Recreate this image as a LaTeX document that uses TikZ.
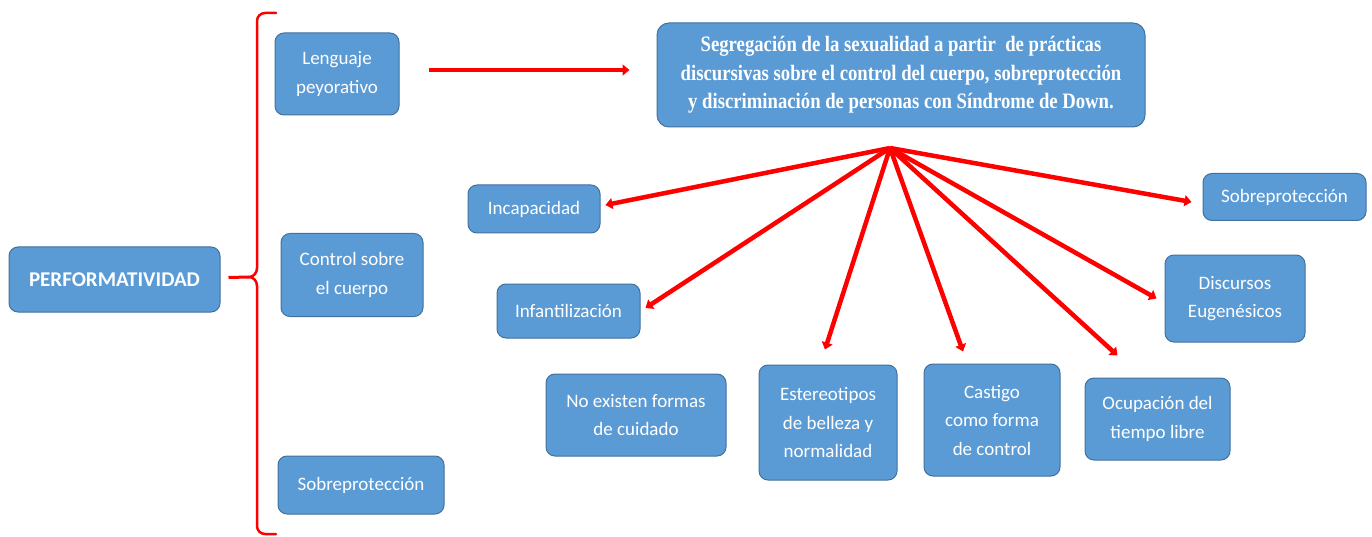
\documentclass[tikz,border=0pt]{standalone}
\usepackage{fontspec}
\setmainfont{Carlito}
\newfontfamily\topfont[FakeStretch=0.85]{Liberation Serif}
\usetikzlibrary{arrows.meta,calc}
\definecolor{boxfill}{RGB}{91,155,213}
\definecolor{boxline}{RGB}{65,113,156}
\tikzset{
  box/.style={draw=boxline, line width=1pt, fill=boxfill, rounded corners=9pt, text=white,
    align=center, inner sep=2pt, font=\fontsize{19}{28.5}\selectfont},
  arr/.style={draw=red, line width=4.5pt, -{Triangle[length=7pt,width=11pt]}},
  bracestyle/.style={draw=red, line width=2.5pt, line cap=round}
}
\begin{document}
\begin{tikzpicture}[x=1pt,y=-1pt]
\useasboundingbox (0,0) rectangle (1372,537);
% left part
\node[box, minimum width=211, minimum height=65, font=\fontsize{21}{24}\selectfont\bfseries] (perf) at (114.5,279.5) {PERFORMATIVIDAD};
\node[box, minimum width=124, minimum height=82] (leng) at (337,74) {Lenguaje\\peyorativo};
\node[box, minimum width=142, minimum height=83] (ctrl) at (352,275) {Control sobre\\el cuerpo};
\node[box, minimum width=166, minimum height=58] (sobL) at (361,485) {Sobreprotección};
% brace
\coordinate (btop) at (276,13);
\coordinate (bbot) at (276,534);
\coordinate (bcusp) at (249,277);
\draw[bracestyle] (btop) -- (265,13) to[out=180,in=90] (257,21) -- (257,268)
  to[out=-90,in=0] (bcusp) to[out=0,in=90] (257,286) -- (257,526) to[out=-90,in=180] (265,534) -- (bbot);
\draw[red, line width=3pt] (perf.east) ++(8,-2) -- (bcusp);
% top
\node[box, minimum width=488, minimum height=104, rounded corners=12pt,
  font=\topfont\bfseries\fontsize{22}{28.5}\selectfont] (top) at (901,75)
  {Segregación de la sexualidad a partir \ de prácticas\\discursivas sobre el control del cuerpo, sobreprotección\\y discriminación de personas con Síndrome de Down.};
\draw[arr] ($(leng.east)+(29,-4)$) -- ($(top.west)+(-27,-5)$);
% children
\coordinate (hub) at (890,148);
\node[box, minimum width=132, minimum height=48] (inc) at (534,209) {Incapacidad};
\node[box, minimum width=143, minimum height=54] (inf) at (568.5,311) {Infantilización};
\node[box, minimum width=180, minimum height=82] (noex) at (636,415) {No existen formas\\de cuidado};
\node[box, minimum width=138, minimum height=115] (est) at (828,422.5) {Estereotipos\\de belleza y\\normalidad};
\node[box, minimum width=136, minimum height=112] (cas) at (992,420) {Castigo\\como forma\\de control};
\node[box, minimum width=145, minimum height=82] (ocu) at (1157.5,419) {Ocupación del\\tiempo libre};
\node[box, minimum width=140, minimum height=87] (dis) at (1235,298.5) {Discursos\\Eugenésicos};
\node[box, minimum width=163, minimum height=47] (sobR) at (1284.5,197) {Sobreprotección};
\draw[arr] (hub) -- ($(inc.east)+(5,-4)$);
\draw[arr] (hub) -- ($(inf.east)+(5,-3)$);
\draw[arr] (hub) -- ($(est.north)+(-3,-15)$);
\draw[arr] (hub) -- ($(cas.north)+(-29,-12)$);
\draw[arr] (hub) -- ($(ocu.north)+(-40,-22)$);
\draw[arr] (hub) -- ($(dis.west)+(-8,0)$);
\draw[arr] (hub) -- ($(sobR.west)+(-11,5)$);
\end{tikzpicture}
\end{document}
